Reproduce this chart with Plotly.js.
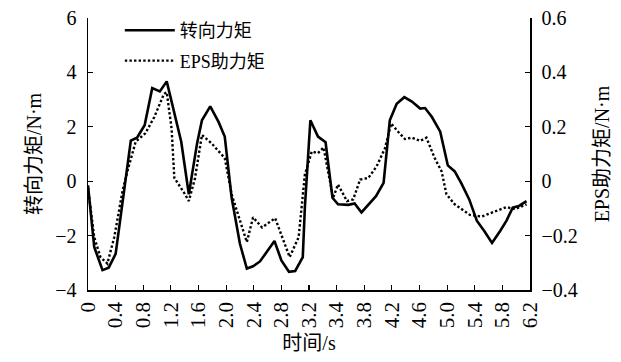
<!DOCTYPE html>
<html>
<head>
<meta charset="utf-8">
<script src="https://cdn.plot.ly/plotly-3.0.1.min.js"></script>
<style>html,body{margin:0;padding:0;background:#fff;}#chart{width:621px;height:362px;}</style>
</head>
<body>
<div id="chart"></div>
<script>
// x positions are in axis units (evenly spaced ticks, 0.4 apart)
const tickPos = [0,0.4,0.8,1.2,1.6,2.0,2.4,2.8,3.2,3.6,4.0,4.4,4.8,5.2,5.6,6.0,6.4];
const tickLabels = ["0","0.4","0.8","1.2","1.6","2.0","2.4","2.8","3.2","3.4","3.8","4.2","4.6","5.0","5.4","5.8","6.2"];

const steerX = [0,0.09,0.21,0.30,0.40,0.62,0.71,0.82,0.93,1.04,1.14,1.24,1.35,1.46,1.58,1.65,1.77,1.89,1.98,2.08,2.20,2.30,2.39,2.49,2.59,2.70,2.80,2.91,3.00,3.11,3.14,3.22,3.33,3.44,3.54,3.62,3.77,3.86,3.96,4.06,4.17,4.28,4.37,4.47,4.58,4.69,4.81,4.88,4.98,5.10,5.21,5.31,5.41,5.52,5.63,5.74,5.85,5.97,6.06,6.15,6.24,6.35];
const steerY = [-0.15,-2.42,-3.27,-3.18,-2.67,1.49,1.6,2.06,3.42,3.3,3.67,2.6,1.45,-0.48,1.4,2.24,2.75,2.18,1.64,-0.61,-2.3,-3.21,-3.13,-2.95,-2.6,-2.2,-2.91,-3.33,-3.3,-2.79,-0.97,2.24,1.64,1.43,-0.61,-0.85,-0.87,-0.82,-1.15,-0.87,-0.55,-0.06,2.24,2.85,3.09,2.93,2.67,2.69,2.36,1.82,0.58,0.36,-0.1,-0.67,-1.45,-1.84,-2.27,-1.82,-1.45,-0.97,-0.91,-0.73];

const epsX = [0,0.09,0.18,0.28,0.38,0.50,0.57,0.69,0.83,0.96,1.10,1.14,1.21,1.25,1.39,1.46,1.55,1.65,1.79,1.98,2.08,2.15,2.30,2.39,2.52,2.71,2.81,2.92,3.05,3.14,3.24,3.33,3.41,3.55,3.62,3.75,3.84,3.94,4.06,4.18,4.30,4.39,4.49,4.59,4.69,4.81,4.90,5.02,5.12,5.19,5.31,5.53,5.70,5.89,6.06,6.18,6.35];
const epsY = [-0.024,-0.206,-0.279,-0.303,-0.206,-0.036,0.036,0.145,0.176,0.236,0.321,0.327,0.194,0.012,-0.042,-0.073,0.012,0.17,0.139,0.085,-0.048,-0.103,-0.224,-0.133,-0.17,-0.136,-0.206,-0.279,-0.206,0.024,0.109,0.103,0.124,-0.061,-0.012,-0.073,-0.067,0.006,0.012,0.055,0.121,0.212,0.182,0.155,0.16,0.148,0.16,0.085,0.036,-0.048,-0.085,-0.124,-0.13,-0.112,-0.095,-0.103,-0.085];

const FONT = "Liberation Serif, Noto Sans CJK SC, serif";

const traces = [
  {x: steerX, y: steerY, type: 'scatter', mode: 'lines', name: '转向力矩',
   line: {color: '#000', width: 2.6}, legendgroup: 'a', yaxis: 'y'},
  {x: epsX, y: epsY, type: 'scatter', mode: 'lines', name: 'EPS助力矩',
   line: {color: '#000', width: 2.4, dash: '2.4px,2.2px'}, legendgroup: 'b', yaxis: 'y2'}
];

const layout = {
  width: 621, height: 362,
  margin: {l: 88, r: 91, t: 15, b: 72, pad: 0},
  paper_bgcolor: '#fff', plot_bgcolor: '#fff',
  font: {family: FONT, size: 18, color: '#000'},
  showlegend: true,
  legend: {x: 0.072, y: 1.022, xanchor: 'left', yanchor: 'top', bgcolor: 'rgba(0,0,0,0)',
           font: {family: FONT, size: 18}, traceorder: 'grouped', tracegroupgap: 4, itemwidth: 50},
  xaxis: {range: [0, 6.4], tickvals: tickPos, ticktext: tickLabels, tickangle: -90,
          showline: true, linecolor: '#000', linewidth: 1.5, mirror: false,
          ticks: 'inside', ticklen: 5, tickcolor: '#000', tickwidth: 1.2,
          showgrid: false, zeroline: false, tickfont: {size: 21}, ticklabelstandoff: 2,
          title: {text: '时间/s', font: {size: 20}, standoff: 9}},
  yaxis: {range: [-4, 6], dtick: 2, tick0: -4, showline: true, linecolor: '#000', linewidth: 1.5,
          ticks: 'inside', ticklen: 5, tickcolor: '#000', tickwidth: 1.2,
          showgrid: false, zeroline: false, tickfont: {size: 20}, ticklabelstandoff: 6,
          title: {text: '转向力矩/N·m', font: {size: 20}, standoff: 8}},
  yaxis2: {range: [-0.4, 0.6], dtick: 0.2, tick0: -0.4, overlaying: 'y', side: 'right',
           showline: true, linecolor: '#000', linewidth: 1.5,
           ticks: 'inside', ticklen: 5, tickcolor: '#000', tickwidth: 1.2,
           showgrid: false, zeroline: false, tickfont: {size: 20}, ticklabelstandoff: 6,
           title: {text: 'EPS助力矩/N·m', font: {size: 20}, standoff: 18}}
};

Plotly.newPlot('chart', traces, layout, {staticPlot: true, displayModeBar: false});
</script>
</body>
</html>
